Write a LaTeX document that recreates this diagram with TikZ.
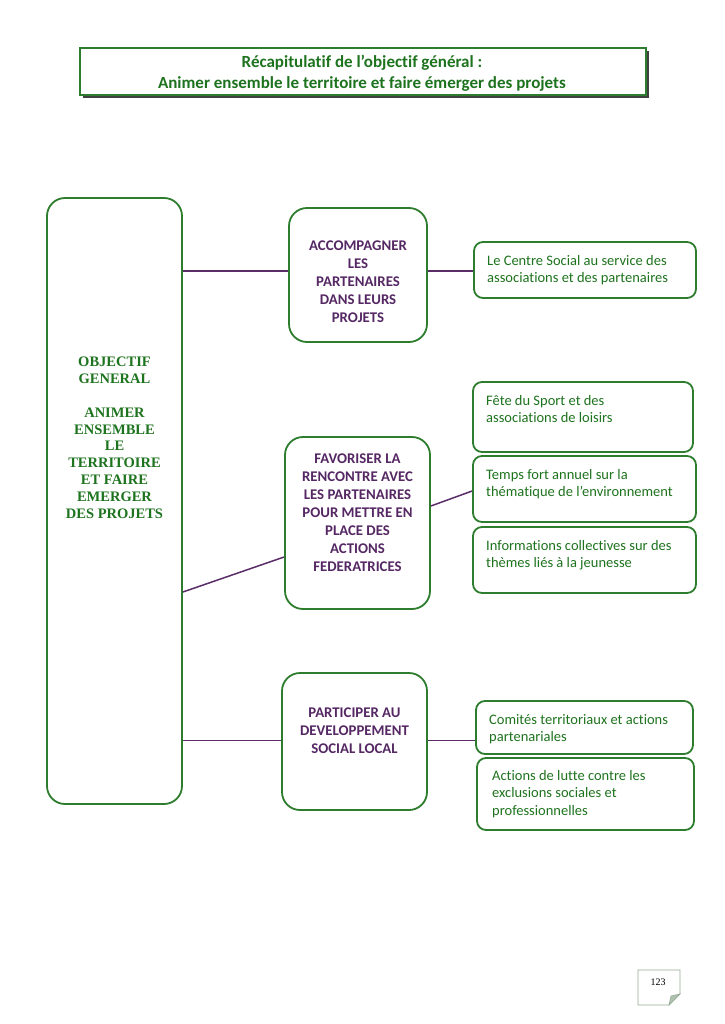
\documentclass[tikz,border=0pt]{standalone}
\usepackage{fontspec}
\setmainfont{Carlito}[Ligatures=CommonOff]
\newfontfamily\tnr{Liberation Serif}
\definecolor{bgreen}{RGB}{46,125,46}
\definecolor{tgreen}{RGB}{30,115,30}
\definecolor{tpurple}{RGB}{85,40,100}
\definecolor{lpurple}{RGB}{90,45,105}
\definecolor{pgborder}{RGB}{150,170,150}
\definecolor{pgfold}{RGB}{175,195,175}
\tikzset{
  bigbox/.style={draw=bgreen, line width=1.8pt, rounded corners=18pt, inner sep=0pt},
  smallbox/.style={draw=bgreen, line width=1.8pt, rounded corners=9pt, inner sep=0pt},
  conn/.style={draw=lpurple, line width=1.5pt},
  rtext/.style={anchor=north west, inner sep=0pt, align=left, text=tgreen, font=\fontsize{14.5}{17.7}\selectfont},
  ptext/.style={anchor=north, inner sep=0pt, align=center, text=tpurple, font=\bfseries\fontsize{14.8}{18}\selectfont},
  ltext/.style={anchor=north, inner sep=0pt, align=center, text=tgreen, font=\tnr\bfseries\fontsize{14.5}{16.8}\selectfont},
}
\begin{document}
\begin{tikzpicture}[x=1pt,y=-1pt]
\useasboundingbox[fill=white] (0,0) rectangle (724,1024);
% title
\fill[black!75] (83,51) rectangle (649,98);
\node[draw=bgreen, fill=white, line width=1.8pt, minimum width=566pt, minimum height=47pt, inner sep=0pt] (title) at (363,71.5) {};
\node[inner sep=0pt, align=center, text=tgreen, font=\bfseries\fontsize{17}{21}\selectfont, anchor=north] (titletext) at (362,55) {Récapitulatif de l’objectif général :\\Animer ensemble le territoire et faire émerger des projets};
% left box
\node[bigbox, minimum width=135pt, minimum height=606pt] (L) at (114.5,501) {};
\node[ltext] (Ltext) at (114.5,357) {OBJECTIF\\GENERAL\\[16.8pt]ANIMER\\ENSEMBLE\\LE\\TERRITOIRE\\ET FAIRE\\EMERGER\\DES PROJETS};
% middle boxes
\node[bigbox, minimum width=138pt, minimum height=134pt] (A) at (358,275) {};
\node[ptext] (Atext) at (358,241) {ACCOMPAGNER\\LES\\PARTENAIRES\\DANS LEURS\\PROJETS};
\node[bigbox, minimum width=145pt, minimum height=172pt] (B) at (357.5,523) {};
\node[ptext] (Btext) at (357.5,454) {FAVORISER LA\\RENCONTRE AVEC\\LES PARTENAIRES\\POUR METTRE EN\\PLACE DES\\ACTIONS\\FEDERATRICES};
\node[bigbox, minimum width=145pt, minimum height=137pt] (C) at (354.5,741.5) {};
\node[ptext] (Ctext) at (354.5,708) {PARTICIPER AU\\DEVELOPPEMENT\\SOCIAL LOCAL};
% right boxes
\node[smallbox, minimum width=222pt, minimum height=56pt] (R1) at (585,270) {};
\node[rtext] (R1t) at (487,255) {Le Centre Social au service des\\associations et des partenaires};
\node[smallbox, minimum width=220pt, minimum height=70pt] (R2) at (583,417) {};
\node[rtext] (R2t) at (486,395) {Fête du Sport et des\\associations de loisirs};
\node[smallbox, minimum width=223pt, minimum height=66pt] (R3) at (584.5,489) {};
\node[rtext] (R3t) at (486,469) {Temps fort annuel sur la\\thématique de l’environnement};
\node[smallbox, minimum width=223pt, minimum height=66pt] (R4) at (584.5,560) {};
\node[rtext] (R4t) at (486,540) {Informations collectives sur des\\thèmes liés à la jeunesse};
\node[smallbox, minimum width=217pt, minimum height=53pt] (R5) at (584.5,727.5) {};
\node[rtext] (R5t) at (489,714) {Comités territoriaux et actions\\partenariales};
\node[smallbox, minimum width=217pt, minimum height=72pt] (R6) at (585.5,794) {};
\node[rtext] (R6t) at (492,770) {Actions de lutte contre les\\exclusions sociales et\\professionnelles};
% connectors
\draw[conn] ([yshift=4pt]A.west -| L.east) -- ([yshift=4pt]A.west);
\draw[conn] ([yshift=4pt]A.east) -- ([yshift=4pt]A.east -| R1.west);
\draw[conn] ([yshift=-91pt]L.east) -- ([yshift=-34pt]B.west);
\draw[conn] ([yshift=17pt]B.east) -- ([yshift=-2pt]R3.west);
\draw[conn] ([yshift=1pt]C.west -| L.east) -- ([yshift=1pt]C.west);
\draw[conn] ([yshift=1pt]C.east) -- ([yshift=1pt]C.east -| R5.west);
% page number
\draw[draw=pgborder, line width=0.8pt, fill=white] (638,970) -- (680,970) -- (680,994) -- (669,1005) -- (638,1005) -- cycle;
\fill[pgfold, draw=pgborder, line width=0.6pt] (680,994) -- (669,1005) -- (671,996) -- cycle;
\node[inner sep=0pt, font=\tnr\fontsize{10}{11}\selectfont] (pg) at (658,982) {123};
\end{tikzpicture}
\end{document}
